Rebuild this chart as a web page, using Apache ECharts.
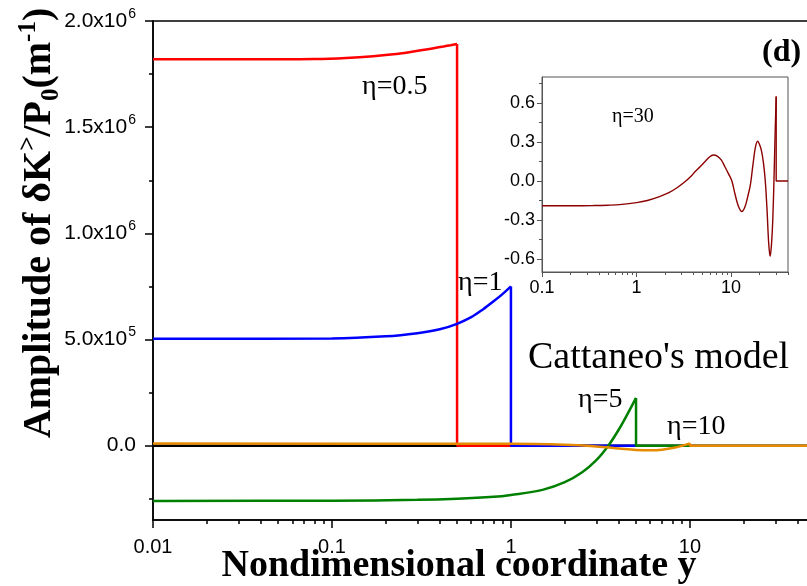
<!DOCTYPE html>
<html>
<head>
<meta charset="utf-8">
<script src="https://cdn.jsdelivr.net/npm/echarts@6/dist/echarts.min.js"></script>
<style>
  html, body { margin: 0; padding: 0; background: #fff; }
  #chart { width: 807px; height: 586px; }
</style>
</head>
<body>
<div id="chart"></div>
<script>
// Amplitude of δK>/P0 (m^-1) versus nondimensional coordinate y, Cattaneo's model.

// main panel axes
const xMajorTicks = [0.01, 0.1, 1, 10];
const xMinorTicks = [0.02, 0.03, 0.04, 0.05, 0.06, 0.07, 0.08, 0.09,
                     0.2, 0.3, 0.4, 0.5, 0.6, 0.7, 0.8, 0.9,
                     2, 3, 4, 5, 6, 7, 8, 9, 20, 30, 40, 50];
const yMajorTicks = [0, 5e5, 1e6, 1.5e6, 2e6];
const yMinorTicks = [-2.5e5, 2.5e5, 7.5e5, 1.25e6, 1.75e6];

// reference zero level
const zeroX = [0.01, 50];
const zeroY = [0, 0];

// η = 0.5
const eta05X = [0.01, 0.05, 0.08, 0.12, 0.17, 0.22, 0.27, 0.32, 0.37, 0.42, 0.46, 0.5, 0.5, 1];
const eta05Y = [1.82e6, 1.82e6, 1.821e6, 1.826e6, 1.834e6, 1.843e6, 1.853e6, 1.863e6, 1.872e6, 1.880e6, 1.886e6, 1.892e6, 0, 0];

// η = 1
const eta1X = [0.01, 0.1, 0.2, 0.3, 0.4, 0.5, 0.6, 0.7, 0.8, 0.9, 1, 1, 5];
const eta1Y = [0.503e6, 0.505e6, 0.515e6, 0.53e6, 0.548e6, 0.574e6, 0.605e6, 0.643e6, 0.68e6, 0.715e6, 0.75e6, 0, 0];

// η = 5
const eta5X = [0.01, 0.1, 0.3, 0.5, 0.8, 1, 1.5, 2, 2.5, 3, 3.5, 4, 4.5, 5, 5, 10];
const eta5Y = [-0.26e6, -0.259e6, -0.255e6, -0.25e6, -0.241e6, -0.232e6, -0.208e6, -0.172e6, -0.125e6, -0.068e6, 0.0, 0.075e6, 0.152e6, 0.225e6, 0, 0];

// η = 10
const eta10X = [0.01, 1, 2, 3, 4, 5, 6, 7, 8, 9, 10, 10, 50];
const eta10Y = [0.01e6, 0.009e6, 0.004e6, -0.004e6, -0.013e6, -0.02e6, -0.022e6, -0.019e6, -0.011e6, -0.001e6, 0.011e6, 0, 0];

// inset: η = 30
const insetXMajor = [0.1, 1, 10];
const insetXMinor = [0.2, 0.3, 0.4, 0.5, 0.6, 0.7, 0.8, 0.9, 2, 3, 4, 5, 6, 7, 8, 9, 20, 30, 40];
const insetYMajor = [-0.6, -0.3, 0, 0.3, 0.6];
const insetYMinor = [-0.45, -0.15, 0.15, 0.45, 0.75];
const eta30X = [0.1, 0.2, 0.35, 0.5, 0.7, 1.0, 1.3, 1.75, 2.2, 2.7, 3.2, 3.7, 4.2, 4.7, 5.3, 5.9, 6.5,
                7.2, 7.9, 8.6, 9.4, 10.2, 11.0, 11.9, 13.0, 14.0, 15.0, 16.0, 17.0, 18.1, 19.1,
                20.0, 21.0, 22.0, 23.0, 24.0, 25.0, 25.9, 26.8, 27.6, 28.4, 29.2, 30.0, 30.0, 40];
const eta30Y = [-0.19, -0.19, -0.189, -0.186, -0.18, -0.166, -0.15, -0.12, -0.09, -0.05, -0.01, 0.03, 0.075, 0.11, 0.15, 0.185, 0.2,
                0.19, 0.16, 0.11, 0.055, 0.0, -0.1, -0.19, -0.235, -0.2, -0.12, -0.03, 0.12, 0.26, 0.306,
                0.28, 0.23, 0.14, 0.0, -0.22, -0.48, -0.58, -0.48, -0.3, 0.0, 0.35, 0.65, 0.0, 0.0];

const serif = '"Liberation Serif", "Times New Roman", serif';
const sans = '"Liberation Sans", Arial, sans-serif';

function pairs(xs, ys) { return xs.map((x, i) => [x, ys[i]]); }

function sciLabel(v) {
  if (v === 0) return '{m|0.0}';
  const e = Math.floor(Math.log10(v) + 1e-9);
  const m = (v / Math.pow(10, e)).toFixed(1);
  return '{m|' + m + 'x10}{e|' + e + '}';
}

function lineSeries(data, color, width, xi, yi, smooth) {
  return {
    type: 'line', xAxisIndex: xi, yAxisIndex: yi, data: data,
    showSymbol: false, symbol: 'none', clip: true, smooth: smooth,
    lineStyle: { color: color, width: width }, emphasis: { disabled: true }
  };
}

// A curve is drawn smooth up to its front (where x repeats), then as straight segments:
// the vertical drop at the front and the flat zero beyond it.
function curve(xs, ys, color, width, xi, yi) {
  const pts = pairs(xs, ys);
  let k = -1;
  for (let i = 1; i < xs.length; i++) { if (xs[i] === xs[i - 1]) { k = i - 1; break; } }
  if (k < 0) return [lineSeries(pts, color, width, xi, yi, 0.35)];
  return [
    lineSeries(pts.slice(0, k + 1), color, width, xi, yi, 0.35),
    lineSeries(pts.slice(k), color, width, xi, yi, false)
  ];
}

const chart = echarts.init(document.getElementById('chart'), null, { renderer: 'canvas' });

const axisBlack = { color: '#000', width: 1.5 };
const insetLine = { color: '#555', width: 1 };

chart.setOption({
  animation: false,
  backgroundColor: '#fff',
  grid: [
    { left: 153, top: 21, width: 662, height: 499, show: true, borderColor: '#000', borderWidth: 1.5,
      backgroundColor: 'transparent', outerBoundsMode: 'none' },
    { left: 542, top: 77, width: 246, height: 195, show: true, borderColor: '#555', borderWidth: 1,
      backgroundColor: '#fff', outerBoundsMode: 'none' }
  ],
  xAxis: [
    { gridIndex: 0, type: 'log', logBase: 10, min: 0.01, max: 50, position: 'bottom',
      axisLine: { show: true, onZero: false, lineStyle: axisBlack },
      axisTick: { show: true, inside: false, length: 8, customValues: xMajorTicks, lineStyle: axisBlack },
      axisLabel: { show: true, customValues: xMajorTicks, formatter: v => String(v), margin: 17,
                   fontSize: 20, fontFamily: sans, color: '#000' },
      splitLine: { show: false }, minorTick: { show: false } },
    { gridIndex: 0, type: 'log', logBase: 10, min: 0.01, max: 50, position: 'bottom',
      axisLine: { show: false, onZero: false },
      axisTick: { show: true, inside: false, length: 4, customValues: xMinorTicks, lineStyle: axisBlack },
      axisLabel: { show: false }, splitLine: { show: false } },
    { gridIndex: 1, type: 'log', logBase: 10, min: 0.1, max: 40, position: 'bottom',
      axisLine: { show: true, onZero: false, lineStyle: insetLine },
      axisTick: { show: true, inside: false, length: 5, customValues: insetXMajor, lineStyle: insetLine },
      axisLabel: { show: true, customValues: insetXMajor, formatter: v => String(v), margin: 7,
                   fontSize: 18, fontFamily: sans, color: '#000' },
      splitLine: { show: false } },
    { gridIndex: 1, type: 'log', logBase: 10, min: 0.1, max: 40, position: 'bottom',
      axisLine: { show: false, onZero: false },
      axisTick: { show: true, inside: false, length: 3, customValues: insetXMinor, lineStyle: insetLine },
      axisLabel: { show: false }, splitLine: { show: false } }
  ],
  yAxis: [
    { gridIndex: 0, type: 'value', min: -3.5e5, max: 2e6, position: 'left',
      axisLine: { show: true, onZero: false, lineStyle: axisBlack },
      axisTick: { show: true, inside: false, length: 8, customValues: yMajorTicks, lineStyle: axisBlack },
      axisLabel: { show: true, customValues: yMajorTicks, formatter: sciLabel, margin: 17,
                   rich: {
                     m: { fontSize: 21, fontFamily: sans, color: '#000', lineHeight: 28 },
                     e: { fontSize: 14, fontFamily: sans, color: '#000', lineHeight: 13, verticalAlign: 'top', padding: [0, 0, 0, 1] }
                   } },
      splitLine: { show: false } },
    { gridIndex: 0, type: 'value', min: -3.5e5, max: 2e6, position: 'left',
      axisLine: { show: false, onZero: false },
      axisTick: { show: true, inside: false, length: 4, customValues: yMinorTicks, lineStyle: axisBlack },
      axisLabel: { show: false }, splitLine: { show: false } },
    { gridIndex: 1, type: 'value', min: -0.7, max: 0.8, position: 'left',
      axisLine: { show: true, onZero: false, lineStyle: insetLine },
      axisTick: { show: true, inside: false, length: 5, customValues: insetYMajor, lineStyle: insetLine },
      axisLabel: { show: true, customValues: insetYMajor, formatter: v => v.toFixed(1), margin: 7,
                   fontSize: 18, fontFamily: sans, color: '#000' },
      splitLine: { show: false } },
    { gridIndex: 1, type: 'value', min: -0.7, max: 0.8, position: 'left',
      axisLine: { show: false, onZero: false },
      axisTick: { show: true, inside: false, length: 3, customValues: insetYMinor, lineStyle: insetLine },
      axisLabel: { show: false }, splitLine: { show: false } }
  ],
  series: [].concat(
    curve(zeroX, zeroY, '#000000', 2.5, 0, 0),
    curve(eta05X, eta05Y, '#FF0000', 2.5, 0, 0),
    curve(eta1X, eta1Y, '#0000FF', 2.5, 0, 0),
    curve(eta5X, eta5Y, '#008000', 2.5, 0, 0),
    curve(eta10X, eta10Y, '#E68A00', 2.5, 0, 0),
    curve(eta30X, eta30Y, '#8B0000', 1.4, 2, 2)
  ),
  graphic: [
    { type: 'text', x: 40, y: 223, rotation: Math.PI / 2,
      style: {
        text: '{b|Amplitude of δK}{p|>}{b|/P}{s|0}{b|(m}{p|-1}{b|)}',
        align: 'center', verticalAlign: 'middle',
        rich: {
          b: { fontSize: 40, fontWeight: 'bold', fontFamily: serif, fill: '#000', lineHeight: 48 },
          p: { fontSize: 25, fontWeight: 'bold', fontFamily: serif, fill: '#000', lineHeight: 27, verticalAlign: 'top' },
          s: { fontSize: 25, fontWeight: 'bold', fontFamily: serif, fill: '#000', lineHeight: 27, verticalAlign: 'bottom' }
        }
      } },
    { type: 'text', x: 459, y: 566,
      style: { text: 'Nondimensional coordinate y', font: 'bold 38px ' + serif, fill: '#000',
               align: 'center', verticalAlign: 'middle' } },
    { type: 'text', x: 762, y: 53,
      style: { text: '(d)', font: 'bold 32px ' + serif, fill: '#000', align: 'left', verticalAlign: 'middle' } },
    { type: 'text', x: 362, y: 87,
      style: { text: 'η=0.5', font: '28px ' + serif, fill: '#000', align: 'left', verticalAlign: 'middle' } },
    { type: 'text', x: 458, y: 283,
      style: { text: 'η=1', font: '28px ' + serif, fill: '#000', align: 'left', verticalAlign: 'middle' } },
    { type: 'text', x: 528, y: 358,
      style: { text: "Cattaneo's model", font: '38px ' + serif, fill: '#000', align: 'left', verticalAlign: 'middle' } },
    { type: 'text', x: 578, y: 400,
      style: { text: 'η=5', font: '28px ' + serif, fill: '#000', align: 'left', verticalAlign: 'middle' } },
    { type: 'text', x: 667, y: 427,
      style: { text: 'η=10', font: '28px ' + serif, fill: '#000', align: 'left', verticalAlign: 'middle' } },
    { type: 'text', x: 612, y: 117,
      style: { text: 'η=30', font: '20px ' + serif, fill: '#000', align: 'left', verticalAlign: 'middle' } }
  ]
});
</script>
</body>
</html>
